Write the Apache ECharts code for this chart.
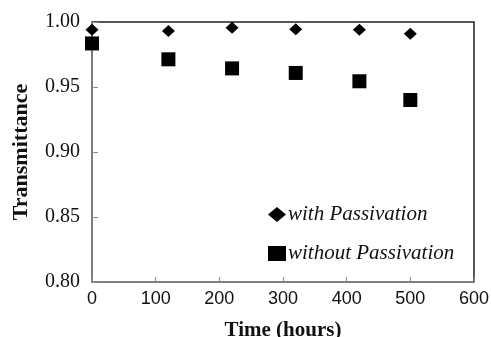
<!DOCTYPE html>
<html>
<head>
<meta charset="utf-8">
<script src="https://cdn.jsdelivr.net/npm/echarts@6/dist/echarts.min.js"></script>
<style>
html, body { margin: 0; padding: 0; background: #fff; }
#chart { width: 491px; height: 337px; }
</style>
</head>
<body>
<div id="chart"></div>
<script>
var hours = [0, 120, 220, 320, 420, 500];
var withPassivation = [0.994, 0.993, 0.9955, 0.9945, 0.994, 0.991];
var withoutPassivation = [0.9835, 0.9713, 0.9643, 0.9608, 0.9544, 0.94];

function pairs(xs, ys) {
    return xs.map(function (x, i) { return [x, ys[i]]; });
}

var myChart = echarts.init(document.getElementById("chart"));
var option = {
    animation: false,
    backgroundColor: '#fff',
    grid: {
        left: 92,
        right: 17,
        top: 22,
        bottom: 55,
        outerBoundsMode: 'none',
        show: true,
        borderColor: '#222',
        borderWidth: 1.5
    },
    legend: {
        orient: 'vertical',
        left: 263,
        top: 199,
        itemGap: 18,
        itemWidth: 18,
        itemHeight: 15,
        textStyle: {
            fontFamily: 'Liberation Serif',
            fontStyle: 'italic',
            fontSize: 21,
            color: '#111',
            padding: [0, 0, 0, -3]
        },
        data: [
            { name: 'with Passivation', icon: 'diamond' },
            { name: 'without Passivation', icon: 'rect' }
        ]
    },
    xAxis: {
        type: 'value',
        min: 0,
        max: 600,
        interval: 100,
        name: 'Time (hours)',
        nameLocation: 'middle',
        nameGap: 38,
        nameTextStyle: {
            fontFamily: 'Liberation Serif',
            fontWeight: 'bold',
            fontSize: 21,
            color: '#111'
        },
        axisLine: { lineStyle: { color: '#8a8a8a', width: 1.5 } },
        axisTick: { inside: true, length: 5, lineStyle: { color: '#8a8a8a' } },
        axisLabel: {
            fontFamily: 'Liberation Sans',
            fontSize: 18,
            color: '#111',
            margin: 8
        },
        splitLine: { show: false }
    },
    yAxis: {
        type: 'value',
        min: 0.8,
        max: 1.0,
        interval: 0.05,
        name: 'Transmittance',
        nameLocation: 'middle',
        nameGap: 60,
        nameTextStyle: {
            fontFamily: 'Liberation Serif',
            fontWeight: 'bold',
            fontSize: 22,
            color: '#111'
        },
        axisLine: { show: true, lineStyle: { color: '#8a8a8a', width: 1.5 } },
        axisTick: { show: true, inside: true, length: 6, lineStyle: { color: '#8a8a8a' } },
        axisLabel: {
            fontFamily: 'Liberation Serif',
            fontSize: 20,
            color: '#111',
            margin: 12,
            formatter: function (v) { return v.toFixed(2); }
        },
        splitLine: { show: false }
    },
    series: [
        {
            name: 'with Passivation',
            type: 'scatter',
            symbol: 'diamond',
            symbolSize: [13, 12],
            itemStyle: { color: '#000', opacity: 1 },
            data: pairs(hours, withPassivation)
        },
        {
            name: 'without Passivation',
            type: 'scatter',
            symbol: 'rect',
            symbolSize: 14,
            itemStyle: { color: '#000', opacity: 1 },
            data: pairs(hours, withoutPassivation)
        }
    ]
};
myChart.setOption(option);
window.addEventListener("resize", function () {
    myChart.resize();
});
</script>
</body>
</html>
